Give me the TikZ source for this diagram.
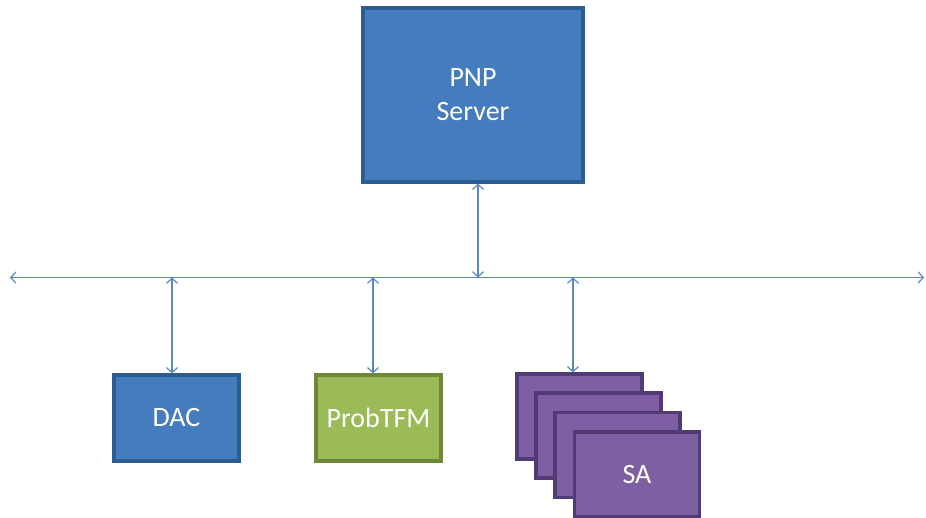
\documentclass[tikz,border=0pt]{standalone}
\usepackage{fontspec}
\setmainfont{Carlito}
\usetikzlibrary{arrows.meta}
\definecolor{bluefill}{HTML}{447CBE}
\definecolor{blueedge}{HTML}{2D5C91}
\definecolor{greenfill}{HTML}{9BBB59}
\definecolor{greenedge}{HTML}{6C8838}
\definecolor{purpfill}{HTML}{7F5FA3}
\definecolor{purpedge}{HTML}{523A74}
\definecolor{linkcol}{HTML}{5B87C5}
\begin{document}
\begin{tikzpicture}[x=1pt,y=-1pt,
  box/.style={draw, line width=3.2pt, minimum width=125pt, minimum height=86pt, inner sep=0pt,
    text=white, font=\fontsize{28}{34}\selectfont, align=center},
  bluebox/.style={box, fill=bluefill, draw=blueedge},
  greenbox/.style={box, fill=greenfill, draw=greenedge},
  purpbox/.style={box, fill=purpfill, draw=purpedge, minimum height=85pt},
  link/.style={draw=linkcol, line width=1.2pt, {Straight Barb[length=5pt,width=11pt]}-{Straight Barb[length=5pt,width=11pt]}}
]
\useasboundingbox (0,0) rectangle (926,518);
\node[bluebox, minimum width=220pt, minimum height=174pt] (pnp) at (473,95) {PNP\\Server};
\node[bluebox] (dac) at (176.5,418) {DAC};
\node[greenbox] (tfm) at (378.5,418) {ProbTFM};
\node[purpbox] (sa1) at (579.5,416.5) {};
\node[purpbox] (sa2) at (598.5,435.5) {};
\node[purpbox] (sa3) at (617.5,455) {};
\node[purpbox] (sa4) at (637,474.5) {SA};
\coordinate (busL) at (10,277.5);
\coordinate (busR) at (924,277.5);
\coordinate (b0) at (478,277.5);
\coordinate (b1) at (172,277.5);
\coordinate (b2) at (373,277.5);
\coordinate (b3) at (573,277.5);
\draw[link] (busL) -- (busR);
\draw[link] (b0 |- pnp.south) -- (b0);
\draw[link] (b1) -- (b1 |- dac.north);
\draw[link] (b2) -- (b2 |- tfm.north);
\draw[link] (b3) -- (b3 |- sa1.north);
\end{tikzpicture}
\end{document}
